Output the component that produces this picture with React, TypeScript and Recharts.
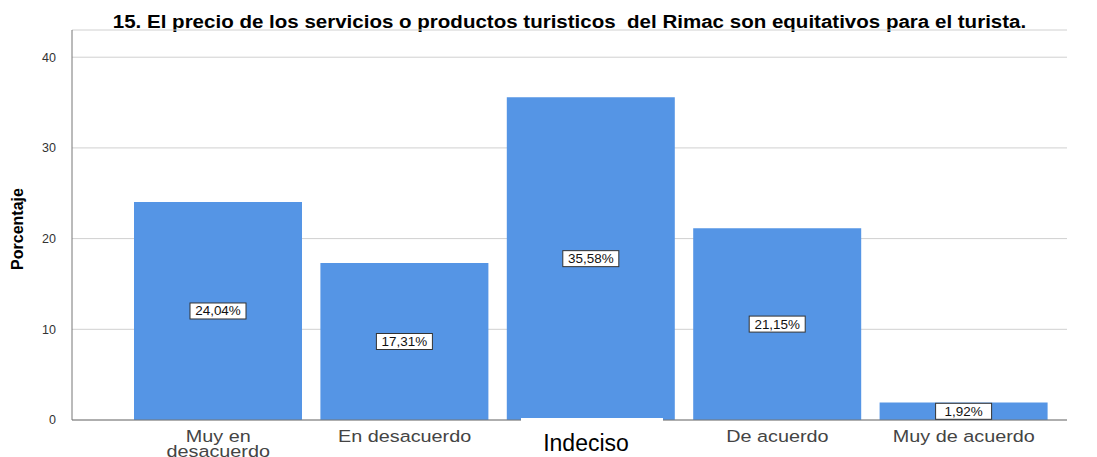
import React from 'react';
import { BarChart, Bar, XAxis, YAxis, CartesianGrid, LabelList } from 'recharts';

const categories = ['Muy en desacuerdo', 'En desacuerdo', 'Indeciso', 'De acuerdo', 'Muy de acuerdo'];
const percentages = [24.04, 17.31, 35.58, 21.15, 1.92];
const yTicks = [0, 10, 20, 30, 40];

const data = categories.map((name, i) => ({ name, value: percentages[i] }));

const fmt = (v: number) => v.toFixed(2).replace('.', ',') + '%';
const FONT = 'Liberation Sans, Arial, sans-serif';

const BarLabel = (props: any) => {
  const { x, y, width, height, value } = props;
  const cx = x + width / 2;
  const cy = y + height / 2;
  const w = 56;
  const h = 16;
  return (
    <g>
      <rect x={cx - w / 2} y={cy - h / 2} width={w} height={h} fill="#fff" stroke="#333" strokeWidth={1} />
      <text transform={`translate(${cx},${cy + 4.5}) scale(1.12,1)`} textAnchor="middle" fontSize={12} fill="#111" fontFamily={FONT}>
        {fmt(value)}
      </text>
    </g>
  );
};

const CategoryTick = (props: any) => {
  const { x, y, payload } = props;
  const label: string = payload.value;
  if (label === 'Indeciso') {
    return (
      <g>
        <rect x={x - 70} y={y - 10} width={142} height={60} fill="#fff" />
        <text x={x - 5} y={y + 23} textAnchor="middle" fontSize={23} fill="#000" fontFamily={FONT}>
          {label}
        </text>
      </g>
    );
  }
  const lines = label === 'Muy en desacuerdo' ? ['Muy en', 'desacuerdo'] : [label];
  return (
    <text transform={`translate(${x},${y + 14}) scale(1.2,1)`} textAnchor="middle" fontSize={16.5} fill="#444" fontFamily={FONT}>
      {lines.map((l, i) => (
        <tspan key={i} x={0} dy={i === 0 ? 0 : 15}>{l}</tspan>
      ))}
    </text>
  );
};

export default function App() {
  return (
    <div style={{ position: 'absolute', left: 0, top: 0, width: 1097, height: 457, background: '#fff', overflow: 'hidden' }}>
      <div
        style={{
          position: 'absolute',
          left: 72,
          width: 995,
          top: 12,
          textAlign: 'center',
          fontFamily: FONT,
          fontWeight: 'bold',
          fontSize: 18,
          color: '#000',
          whiteSpace: 'pre',
          transform: 'scaleX(1.14)',
          transformOrigin: 'center',
        }}
      >
        15. El precio de los servicios o productos turisticos  del Rimac son equitativos para el turista.
      </div>
      <div
        style={{
          position: 'absolute',
          left: 18,
          top: 229,
          width: 0,
          height: 0,
        }}
      >
        <div
          style={{
            position: 'absolute',
            transform: 'translate(-50%, -50%) rotate(-90deg)',
            fontFamily: FONT,
            fontWeight: 'bold',
            fontSize: 16,
            whiteSpace: 'nowrap',
          }}
        >
          Porcentaje
        </div>
      </div>
      <BarChart
        width={1097}
        height={457}
        data={data}
        margin={{ top: 30, right: 30, bottom: 0, left: 0 }}
        barCategoryGap={9}
      >
        <CartesianGrid vertical={false} stroke="#d0d0d0" />
        <XAxis
          dataKey="name"
          axisLine={{ stroke: '#777' }}
          tickLine={false}
          tick={<CategoryTick />}
          interval={0}
          padding={{ left: 53, right: 10 }}
          height={37}
        />
        <YAxis
          width={72}
          domain={[0, 43]}
          ticks={yTicks}
          axisLine={{ stroke: '#777' }}
          tickLine={false}
          tickMargin={10}
          tick={{ fontSize: 12.5, fill: '#333', fontFamily: FONT }}
        />
        <Bar dataKey="value" fill="#5595e5" isAnimationActive={false}>
          <LabelList dataKey="value" content={<BarLabel />} />
        </Bar>
      </BarChart>
    </div>
  );
}
